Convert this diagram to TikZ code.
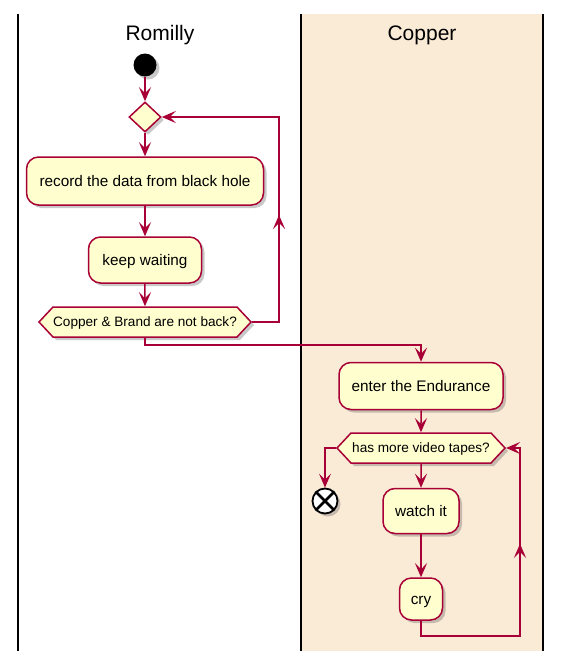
\documentclass[tikz,border=0pt]{standalone}
\usepackage{fontspec}
\setmainfont{Liberation Sans}
\usetikzlibrary{shapes.geometric,shapes.symbols,shadows,arrows.meta,decorations.markings}
\definecolor{pred}{HTML}{A80036}
\definecolor{pfill}{HTML}{FEFECE}
\definecolor{lanebg}{HTML}{FAEBD7}
\tikzset{
  x=1pt,y=-1pt,
  ptip/.tip={Stealth[length=14pt,width=12pt,inset=6pt]},
  >=ptip,
  shad/.style={drop shadow={shadow xshift=3pt,shadow yshift=-3pt,opacity=0.3,fill=black!70}},
  act/.style={draw=pred,fill=pfill,line width=1.5pt,rounded corners=12pt,shad,
     inner sep=0pt,text height=1em,text depth=0em,font=\fontsize{15.3}{17}\selectfont},
  hexa/.style={shape=signal,signal to=east and west,signal pointer angle=94,
     draw=pred,fill=pfill,line width=1.5pt,shad,inner sep=0pt,minimum height=30pt,
     text height=0.9em,text depth=0.1em,font=\fontsize{13.6}{15}\selectfont},
  dia/.style={shape=diamond,draw=pred,fill=pfill,line width=1.5pt,shad,inner sep=0pt,
     minimum width=32pt,minimum height=30pt},
  conn/.style={draw=pred,line width=1.5pt,->},
  midarrow/.style={postaction={decorate},decoration={markings,mark=at position #1 with {\arrow{ptip}}}},
  lane/.style={draw=black,line width=2pt},
  title/.style={font=\fontsize{21}{24}\selectfont},
}
\begin{document}
\begin{tikzpicture}
\useasboundingbox (0,0) rectangle (566,664);
% lanes
\fill[lanebg] (301,14) rectangle (543,651);
\draw[lane] (18,14) -- (18,651);
\draw[lane] (301,14) -- (301,651);
\draw[lane] (543,14) -- (543,651);
\node[title] (t1) at (160,35) {Romilly};
\node[title] (t2) at (422,35) {Copper};
% nodes
\node[circle,fill=black,minimum size=23pt,inner sep=0pt,shad] (start) at (145,65) {};
\node[dia] (d1) at (145,117) {};
\node[act,minimum width=237pt,minimum height=48pt] (a1) at (145,181) {record the data from black hole};
\node[act,minimum width=113pt,minimum height=46pt] (a2) at (145,260) {keep waiting};
\node[hexa,minimum width=212pt] (h1) at (145,322) {Copper \& Brand are not back?};
\node[act,minimum width=164pt,minimum height=47pt] (a3) at (421,386) {enter the Endurance};
\node[hexa,minimum width=168pt] (h2) at (421,448) {has more video tapes?};
\node[circle,draw=black,fill=white,line width=1.8pt,minimum size=25pt,inner sep=0pt,shad] (endn) at (325,501) {};
\draw[line width=2.6pt] (endn.north west) -- (endn.south east);
\draw[line width=2.6pt] (endn.north east) -- (endn.south west);
\node[act,minimum width=76pt,minimum height=45pt] (a4) at (421,511) {watch it};
\node[act,minimum width=43pt,minimum height=42pt] (a5) at (421,599) {cry};
% connectors
\draw[conn] (start) -- (d1);
\draw[conn] (d1) -- (a1);
\draw[conn] (a1) -- (a2);
\draw[conn] (a2) -- (h1);
\draw[conn,midarrow=134pt] (h1.east) -- ++(27,0) |- (d1.east);
\draw[conn] (h1.south) -- ++(0,7) -| (a3.north);
\draw[conn] (a3) -- (h2);
\draw[conn] (h2.west) -| (endn.north);
\draw[conn] (h2) -- (a4);
\draw[conn] (a4) -- (a5);
\draw[conn,midarrow=206pt] (a5.south) -- ++(0,15) -- ++(99,0) |- (h2.east);
\end{tikzpicture}
\end{document}
